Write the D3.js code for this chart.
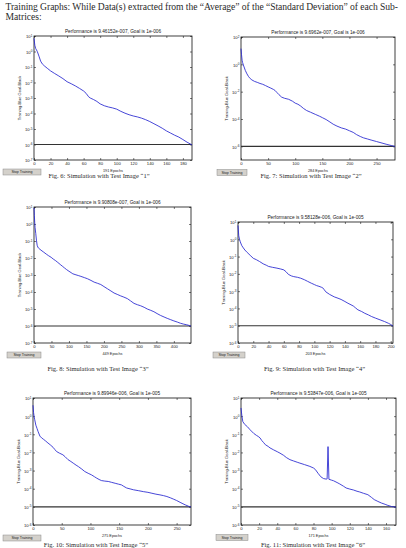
<!DOCTYPE html>
<html>
<head>
<meta charset="utf-8">
<script src="https://cdn.jsdelivr.net/npm/d3@7"></script>
<style>
body{margin:0;background:#fff}
svg{display:block}
.hdr,.cap{font-family:"Liberation Serif","Times New Roman",serif;fill:#2a2a2a}
.ax text{font-family:"Liberation Sans",Arial,sans-serif;fill:#222}
</style>
</head>
<body>
<svg id="page" width="406" height="548"></svg>
<script>
var headerLines=["Training Graphs: While Data(s) extracted from the \u201cAverage\u201d of the \u201cStandard Deviation\u201d of each Sub-","Matrices:"];

var titles=["Performance is 9.46152e-007, Goal is 1e-006","Performance is 9.6962e-007, Goal is 1e-006","Performance is 9.90808e-007, Goal is 1e-006",
            "Performance is 9.58128e-006, Goal is 1e-005","Performance is 9.89946e-006, Goal is 1e-005","Performance is 9.53847e-006, Goal is 1e-005"];
var epochLabels=["191 Epochs","284 Epochs","449 Epochs","203 Epochs","275 Epochs","171 Epochs"];
var captions=["Fig. 6: Simulation with Test Image \u201c1\u201d","Fig. 7: Simulation with Test Image \u201c2\u201d","Fig. 8: Simulation with Test Image \u201c3\u201d",
              "Fig. 9: Simulation with Test Image \u201c4\u201d","Fig. 10: Simulation with Test Image \u201c5\u201d","Fig. 11: Simulation with Test Image \u201c6\u201d"];
var yLabel="Training-Blue  Goal-Black";
var buttonLabel="Stop Training";

var xMax=[191,284,449,203,275,171];
var xTicks=[[0,20,40,60,80,100,120,140,160,180],[0,50,100,150,200,250],[0,50,100,150,200,250,300,350,400],
            [0,20,40,60,80,100,120,140,160,180,200],[0,50,100,150,200,250],[0,20,40,60,80,100,120,140,160]];
//y axes are log10 exponents
var yRanges=[[-7,1],[-7,2],[-7,1],[-6,1],[-6,1],[-6,1]];
var yTicks=[[1,0,-1,-2,-3,-4,-5,-6,-7],[2,0,-2,-4,-6],[1,0,-1,-2,-3,-4,-5,-6,-7],
            [1,0,-1,-2,-3,-4,-5,-6],[1,0,-1,-2,-3,-4,-5,-6],[1,0,-1,-2,-3,-4,-5,-6]];
var goals=[-6,-6,-6,-5,-5,-5];

//training curves : epoch / log10(performance)
var ep1=[0,1,2,3,4,6,8,10,13,16,20,25,30,35,40,45,50,55,60,63,66,68,72,76,80,85,90,95,100,105,110,115,120,125,130,135,140,145,150,155,160,165,170,175,180,185,191];
var perf1=[0.85,0.4,0.2,0.1,0.0,-0.3,-0.62,-0.8,-0.95,-1.08,-1.25,-1.42,-1.58,-1.75,-1.95,-2.08,-2.22,-2.38,-2.55,-2.7,-2.92,-3.0,-3.1,-3.22,-3.38,-3.5,-3.58,-3.64,-3.72,-3.86,-3.98,-4.08,-4.16,-4.22,-4.3,-4.4,-4.52,-4.66,-4.8,-4.95,-5.12,-5.26,-5.4,-5.52,-5.68,-5.85,-6.024];
var ep2=[0,1,2,3,5,8,11,14,17,20,25,30,35,40,45,50,55,60,63,66,70,75,80,88,95,100,105,110,115,121,128,137,145,150,157,164,170,177,185,193,200,207,213,220,226,233,240,250,260,269,277,284];
var perf2=[1.15,0.7,0.3,0.12,-0.12,-0.45,-0.7,-0.9,-1.04,-1.14,-1.25,-1.32,-1.4,-1.46,-1.55,-1.65,-1.74,-1.84,-1.92,-2.05,-2.22,-2.4,-2.48,-2.56,-2.7,-2.84,-2.92,-3.05,-3.22,-3.38,-3.5,-3.66,-3.8,-3.9,-4.04,-4.22,-4.38,-4.52,-4.65,-4.74,-4.86,-4.98,-5.14,-5.28,-5.38,-5.46,-5.54,-5.65,-5.76,-5.86,-5.94,-6.013];
var ep3=[0,1,2,3,5,7,9,11,13,20,28,35,42,49,55,62,68,75,81,87,93,100,106,111,120,128,134,145,153,163,172,182,191,200,210,220,229,238,248,257,267,276,286,296,305,315,324,334,343,352,362,372,381,391,400,410,419,428,437,444,449];
var perf3=[0.95,0.5,0.1,-0.2,-0.55,-0.95,-1.25,-1.36,-1.42,-1.54,-1.66,-1.77,-1.87,-1.96,-2.06,-2.16,-2.26,-2.38,-2.48,-2.58,-2.68,-2.78,-2.86,-2.93,-2.99,-3.04,-3.08,-3.16,-3.22,-3.32,-3.42,-3.49,-3.56,-3.68,-3.81,-3.94,-4.06,-4.14,-4.23,-4.3,-4.39,-4.52,-4.67,-4.75,-4.81,-4.9,-5.0,-5.08,-5.16,-5.27,-5.38,-5.47,-5.55,-5.63,-5.7,-5.77,-5.84,-5.89,-5.93,-5.97,-6.004];
var ep4=[0,1,2,3,5,7,9,12,16,20,24,28,33,37,40,45,51,56,60,63,66,70,73,78,82,87,91,96,100,103,106,109,111,113,115,120,126,131,135,140,144,148,151,154,157,162,166,171,175,180,186,192,197,200,203];
var perf4=[0.8,0.2,0.0,-0.15,-0.37,-0.5,-0.62,-0.76,-0.93,-1.1,-1.18,-1.28,-1.42,-1.5,-1.57,-1.62,-1.67,-1.72,-1.77,-1.88,-2.03,-2.12,-2.16,-2.2,-2.25,-2.34,-2.43,-2.54,-2.62,-2.68,-2.72,-2.77,-2.81,-2.92,-3.04,-3.19,-3.33,-3.41,-3.48,-3.6,-3.7,-3.79,-3.86,-3.97,-4.08,-4.18,-4.28,-4.38,-4.47,-4.56,-4.66,-4.76,-4.86,-4.93,-5.019];
var ep5=[0,1,2,3,5,7,9,12,15,18,22,26,30,35,38,41,46,52,56,61,66,70,75,79,85,90,96,102,107,111,115,119,125,131,137,143,149,154,158,163,169,175,184,192,200,207,214,221,227,233,239,245,250,256,261,265,268,271,273,275];
var perf5=[0.6,0.2,-0.05,-0.2,-0.5,-0.68,-0.86,-1.1,-1.2,-1.27,-1.37,-1.48,-1.58,-1.72,-1.84,-1.95,-2.04,-2.13,-2.24,-2.4,-2.5,-2.59,-2.7,-2.78,-2.92,-3.05,-3.15,-3.24,-3.34,-3.42,-3.49,-3.55,-3.58,-3.6,-3.65,-3.7,-3.75,-3.79,-3.87,-3.96,-4.01,-4.06,-4.11,-4.16,-4.2,-4.25,-4.3,-4.34,-4.38,-4.43,-4.5,-4.58,-4.65,-4.75,-4.83,-4.89,-4.93,-4.97,-4.99,-5.004];
var ep6=[0,1,2,4,7,10,14,17,19,21,23,25,27,30,32,36,40,43,47,50,54,58,62,65,70,76,80,82,85,88,91,94,95,96,97,100,102,106,109,113,116,120,124,128,131,135,140,144,147,151,155,159,162,166,171];
var perf6=[0.45,0.0,-0.3,-0.45,-0.58,-0.75,-0.95,-1.06,-1.12,-1.2,-1.35,-1.46,-1.58,-1.67,-1.75,-1.86,-1.96,-2.04,-2.16,-2.28,-2.4,-2.47,-2.54,-2.59,-2.67,-2.77,-2.86,-2.94,-3.15,-3.34,-3.44,-3.47,-3.46,-1.68,-3.48,-3.53,-3.56,-3.66,-3.74,-3.86,-3.96,-4.02,-4.07,-4.14,-4.18,-4.25,-4.33,-4.48,-4.6,-4.7,-4.79,-4.86,-4.92,-4.98,-5.02];
var epochs=[ep1,ep2,ep3,ep4,ep5,ep6];
var perfs=[perf1,perf2,perf3,perf4,perf5,perf6];

//layout of the six screenshots on the page
var boxes=[{l:34,r:192,t:36,b:160},{l:241,r:395,t:37,b:160},{l:34,r:191,t:207,b:343},
           {l:238,r:393,t:222,b:343},{l:33,r:191,t:398,b:525},{l:241,r:396,t:398,b:525}];
var buttons=[{x:3,y:169,w:38},{x:217,y:169.5,w:30},{x:7,y:352,w:34},{x:213,y:352,w:32},{x:3,y:535,w:38},{x:216,y:534.5,w:32}];
var capPos=[{x:99,y:177.5},{x:311,y:177.5},{x:98,y:370.5},{x:314.5,y:370.5},{x:96,y:546.5},{x:313,y:546.5}];

var svg=d3.select("#page");

//header paragraph
svg.append("text").attr("class","hdr").attr("x",5.5).attr("y",9.5).style("font-size","9.6px")
    .attr("textLength",392.5).attr("lengthAdjust","spacing").text(headerLines[0]);
svg.append("text").attr("class","hdr").attr("x",5.5).attr("y",20).style("font-size","9.6px").text(headerLines[1]);

function drawPanel(i){
    var b=boxes[i];
    var x=d3.scaleLinear().domain([0,xMax[i]]).range([b.l,b.r]);
    var y=d3.scaleLog().domain([Math.pow(10,yRanges[i][0]),Math.pow(10,yRanges[i][1])]).range([b.b,b.t]);
    var g=svg.append("g").attr("class","ax");

    //ticks inside on the 4 sides
    var xb=g.append("g").attr("transform","translate(0,"+b.b+")")
        .call(d3.axisBottom(x).tickValues(xTicks[i]).tickSizeInner(-2).tickSizeOuter(0).tickPadding(2.2).tickFormat(d3.format("d")));
    xb.selectAll("text").style("font-size","4.2px").attr("dy","0.71em");
    g.append("g").attr("transform","translate(0,"+b.t+")")
        .call(d3.axisTop(x).tickValues(xTicks[i]).tickSizeInner(-2).tickSizeOuter(0).tickFormat(""));
    var yl=g.append("g").attr("transform","translate("+b.l+",0)")
        .call(d3.axisLeft(y).tickValues(yTicks[i].map(function(v){return Math.pow(10,v)})).tickSizeInner(-2).tickSizeOuter(0).tickPadding(1.6).tickFormat(""));
    yl.selectAll(".tick text").each(function(d){
        var t=d3.select(this).style("font-size","4.2px").attr("dy","0.45em").text("10");
        t.append("tspan").attr("dy",-1.8).style("font-size","3.1px").text(Math.round(Math.log10(d)));
    });
    g.append("g").attr("transform","translate("+b.r+",0)")
        .call(d3.axisRight(y).tickValues(yTicks[i].map(function(v){return Math.pow(10,v)})).tickSizeInner(-2).tickSizeOuter(0).tickFormat(""));
    g.selectAll(".domain").remove();
    g.selectAll(".tick line").attr("stroke","#222").attr("stroke-width",0.6);

    g.append("rect").attr("x",b.l).attr("y",b.t).attr("width",b.r-b.l).attr("height",b.b-b.t)
        .attr("fill","none").attr("stroke","#111").attr("stroke-width",0.8);

    //goal
    g.append("line").attr("x1",x(0)).attr("x2",x(xMax[i])).attr("y1",y(Math.pow(10,goals[i]))).attr("y2",y(Math.pow(10,goals[i])))
        .attr("stroke","#333").attr("stroke-width",1.1);
    //training
    var pts=epochs[i].map(function(e,k){return [e,Math.pow(10,perfs[i][k])]});
    g.append("path").datum(pts).attr("fill","none").attr("stroke","#2626d0").attr("stroke-width",0.85)
        .attr("d",d3.line().x(function(d){return x(d[0])}).y(function(d){return y(d[1])}));

    g.append("text").attr("x",(b.l+b.r)/2).attr("y",b.t-3.2).attr("text-anchor","middle").style("font-size","4.75px").text(titles[i]);
    g.append("text").attr("x",(b.l+b.r)/2).attr("y",b.b+11.5).attr("text-anchor","middle").style("font-size","3.8px").text(epochLabels[i]);
    g.append("text").attr("transform","translate("+(b.l-13)+","+((b.t+b.b)/2)+") rotate(-90)")
        .attr("text-anchor","middle").style("font-size","4px").text(yLabel);

    //Stop Training button
    var bt=buttons[i];
    g.append("rect").attr("x",bt.x).attr("y",bt.y).attr("width",bt.w).attr("height",6)
        .attr("fill","#d4d1cb").attr("stroke","#8a8a8a").attr("stroke-width",0.5);
    g.append("text").attr("x",bt.x+bt.w/2).attr("y",bt.y+4.3).attr("text-anchor","middle").style("font-size","3.6px").text(buttonLabel);

    svg.append("text").attr("class","cap").attr("x",capPos[i].x).attr("y",capPos[i].y)
        .attr("text-anchor","middle").style("font-size","6.5px").text(captions[i]);
}

for(var i=0;i<6;i++){
    drawPanel(i)
}
</script>
</body>
</html>
